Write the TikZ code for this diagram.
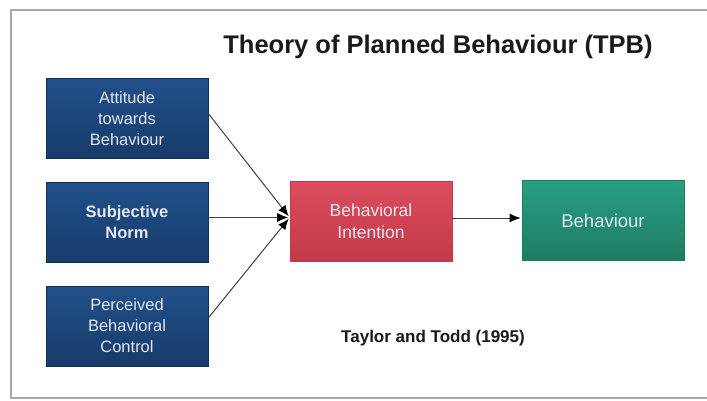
\documentclass[tikz,border=0pt]{standalone}
\usepackage{fontspec}
\setmainfont{Liberation Sans}
\usetikzlibrary{arrows.meta}
\definecolor{frameGray}{HTML}{A8A8A8}
\definecolor{blueTop}{HTML}{21508A}
\definecolor{blueBot}{HTML}{173C6C}
\definecolor{redTop}{HTML}{DC4C5E}
\definecolor{redBot}{HTML}{C23A4A}
\definecolor{greenTop}{HTML}{2A9E82}
\definecolor{greenBot}{HTML}{1D7C62}
\definecolor{boxText}{HTML}{E6E8F0}
\definecolor{titleInk}{HTML}{1A1A1A}
\tikzset{
  factor/.style={rectangle, minimum width=162pt, minimum height=80pt,
    top color=blueTop, bottom color=blueBot, draw=blueBot!80!black, line width=0.6pt,
    text=boxText, align=center, inner sep=2pt,
    font=\fontsize{16.5}{21}\selectfont},
  intention/.style={factor, top color=redTop, bottom color=redBot, draw=redBot},
  outcome/.style={factor, top color=greenTop, bottom color=greenBot, draw=greenBot},
  link/.style={draw=black!75, line width=1pt,
    -{Latex[length=11pt,width=9pt,color=black]}},
}
\begin{document}
\begin{tikzpicture}[x=1pt,y=-1pt]
  \useasboundingbox (0,0) rectangle (707,400);
  \fill[white] (0,0) rectangle (707,400);
  % outer frame
  \draw[frameGray, line width=1.5pt] (707,10) -- (11,10) -- (11,398) -- (707,398);

  % title and citation
  \node[font=\fontsize{25.5}{30}\selectfont\bfseries, text=titleInk] (title) at (438,47) {Theory of Planned Behaviour (TPB)};
  \node[font=\fontsize{17}{20}\selectfont\bfseries, text=titleInk] (cite) at (433,338) {Taylor and Todd (1995)};

  % antecedents
  \node[factor] (att) at (127,118.5) {Attitude\\towards\\Behaviour};
  \node[factor, font=\fontsize{16.5}{21}\selectfont\bfseries] (sn) at (127,222) {Subjective\\Norm};
  \node[factor] (pbc) at (127,326) {Perceived\\Behavioral\\Control};

  % intention and behaviour
  \node[intention, font=\fontsize{17.5}{22}\selectfont] (bi) at (371,221.5) {Behavioral\\Intention};
  \node[outcome, font=\fontsize{18.5}{22}\selectfont] (beh) at (603,220.5) {Behaviour};

  % connectors, all meeting at one point on the intention box
  \coordinate (meet) at ([yshift=4pt]bi.west);
  \draw[link, shorten >=1.5pt] ([yshift=5pt]att.east) -- (meet);
  \draw[link, shorten >=1.5pt] (meet -| sn.east) -- (meet);
  \draw[link, shorten >=1.5pt] ([yshift=8pt]pbc.east) -- (meet);
  \draw[link, shorten >=1pt] ([yshift=3.5pt]bi.east) -- ([yshift=3.5pt]bi.east -| beh.west);
\end{tikzpicture}
\end{document}
